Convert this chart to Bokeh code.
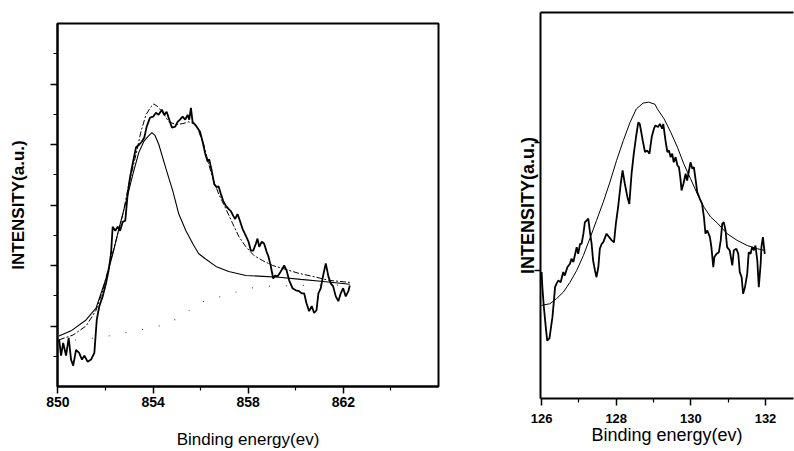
from bokeh.plotting import figure
from bokeh.layouts import row
from bokeh.models import FixedTicker, LinearAxis, Range1d, CustomJSTickFormatter
from bokeh.embed import file_html
from bokeh.resources import INLINE

# ---------------- Left panel: Ni 2p region ----------------
ni_x = [850.05, 850.13, 850.22, 850.34, 850.45, 850.55, 850.64, 850.76, 850.89, 851.01,
        851.11, 851.25, 851.39, 851.53, 851.63, 851.74, 851.88, 852.02, 852.13, 852.23,
        852.30, 852.41, 852.51, 852.61, 852.72, 852.83, 852.93, 853.03, 853.16, 853.28,
        853.42, 853.53, 853.63, 853.73, 853.87, 854.00, 854.12, 854.23, 854.37, 854.47,
        854.57, 854.68, 854.79, 854.93, 855.03, 855.13, 855.24, 855.35, 855.45, 855.52,
        855.59, 855.66, 855.80, 855.97, 856.08, 856.19, 856.29, 856.36, 856.47, 856.57,
        856.67, 856.75, 856.85, 856.95, 857.06, 857.17, 857.27, 857.37, 857.45, 857.55,
        857.65, 857.76, 857.90, 858.01, 858.11, 858.21, 858.32, 858.39, 858.46, 858.57,
        858.67, 858.77, 858.85, 858.95, 859.05, 859.13, 859.23, 859.37, 859.51, 859.61,
        859.72, 859.86, 860.00, 860.14, 860.25, 860.35, 860.45, 860.56, 860.67, 860.77,
        860.87, 860.95, 861.05, 861.15, 861.26, 861.37, 861.47, 861.57, 861.68, 861.79,
        861.89, 861.99, 862.10, 862.21, 862.27]
ni_y = [1.55, 1.02, 1.44, 1.02, 1.61, 0.89, 0.69, 1.21, 1.11, 0.89,
        1.02, 0.82, 0.89, 1.11, 2.20, 2.66, 2.98, 3.41, 3.84, 4.39,
        5.28, 5.15, 5.28, 5.15, 5.44, 5.48, 6.36, 6.92, 7.44, 7.90,
        8.00, 8.10, 8.23, 8.59, 8.89, 8.92, 9.05, 8.98, 9.15, 8.98,
        9.08, 8.82, 8.56, 8.59, 8.75, 8.82, 8.92, 8.82, 8.98, 8.82,
        9.21, 8.75, 8.62, 8.43, 8.10, 7.70, 7.44, 7.51, 7.11, 6.69,
        6.59, 6.62, 6.36, 6.13, 5.97, 5.87, 5.80, 5.64, 5.54, 5.70,
        5.48, 5.21, 4.98, 4.79, 4.49, 4.49, 4.72, 4.89, 4.62, 4.79,
        4.72, 4.46, 4.30, 3.97, 3.57, 3.67, 3.64, 3.80, 4.00, 3.84,
        3.51, 3.25, 3.18, 3.15, 3.08, 3.08, 2.75, 2.49, 2.66, 2.43,
        2.52, 3.08, 3.25, 3.67, 4.07, 3.64, 3.41, 3.31, 2.98, 2.82,
        3.08, 3.25, 2.98, 3.15, 3.34]

ni_env_x = [850.04, 850.63, 851.18, 851.60, 851.89, 852.14, 852.44, 852.73, 852.98, 853.28,
            853.49, 853.70, 853.91, 854.03, 854.20, 854.41, 854.66, 854.96, 855.25, 855.50,
            855.80, 855.92, 856.13, 856.34, 856.55, 856.76, 857.06, 857.35, 857.61, 857.90,
            858.24, 858.61, 859.03, 859.58, 860.13, 860.71, 861.39, 862.27]
ni_env_y = [1.54, 1.70, 2.00, 2.52, 3.18, 3.97, 4.82, 5.70, 6.69, 7.67,
            8.43, 8.98, 9.25, 9.34, 9.25, 9.05, 8.75, 8.66, 8.69, 8.75,
            8.66, 8.43, 8.00, 7.34, 6.79, 6.36, 5.87, 5.38, 4.95, 4.62,
            4.33, 4.16, 4.00, 3.87, 3.74, 3.64, 3.51, 3.44]

ni_main_x = [850.04, 850.55, 851.18, 851.60, 852.02, 852.31, 852.56, 852.86, 853.15, 853.40,
             853.61, 853.78, 853.95, 854.08, 854.24, 854.54, 854.83, 855.08, 855.38, 855.67,
             855.92, 856.18, 856.64, 857.18, 857.90, 858.61, 859.29, 860.21, 861.05, 862.27]
ni_main_y = [1.67, 1.84, 2.20, 2.59, 3.57, 4.39, 5.21, 6.10, 7.02, 7.74,
             8.10, 8.26, 8.39, 8.30, 8.00, 7.20, 6.46, 5.70, 5.15, 4.72,
             4.39, 4.23, 3.97, 3.80, 3.67, 3.64, 3.61, 3.54, 3.48, 3.38]

ni_bg_x = [850.0, 851.0, 852.0, 853.0, 854.0, 854.7, 855.5, 856.2, 857.0, 857.8,
           858.4, 859.1, 860.0, 861.0, 862.3]
ni_bg_y = [1.50, 1.55, 1.65, 1.80, 1.95, 2.10, 2.50, 2.85, 3.00, 3.20,
           3.30, 3.32, 3.34, 3.35, 3.35]

left_xticks = [850, 854, 858, 862]
left_xminor = [852, 856, 860, 864]
left_yticks = [2, 4, 6, 8, 10]
left_yminor = [1, 3, 5, 7, 9, 11]

# ---------------- Right panel: B 1s region ----------------
b_x = [126.00, 126.02, 126.06, 126.12, 126.15, 126.21, 126.24, 126.29, 126.33, 126.36,
       126.40, 126.45, 126.51, 126.58, 126.62, 126.69, 126.76, 126.80, 126.85, 126.89,
       126.94, 126.98, 127.03, 127.07, 127.12, 127.16, 127.21, 127.25, 127.29, 127.34,
       127.38, 127.43, 127.47, 127.52, 127.56, 127.61, 127.65, 127.74, 127.81, 127.88,
       127.94, 127.99, 128.05, 128.12, 128.17, 128.23, 128.30, 128.35, 128.41, 128.47,
       128.53, 128.59, 128.63, 128.71, 128.77, 128.83, 128.89, 128.95, 129.01, 129.05,
       129.12, 129.17, 129.23, 129.26, 129.32, 129.37, 129.41, 129.46, 129.50, 129.54,
       129.59, 129.64, 129.68, 129.72, 129.75, 129.80, 129.86, 129.90, 129.95, 129.99,
       130.04, 130.08, 130.13, 130.17, 130.24, 130.30, 130.35, 130.39, 130.44, 130.51,
       130.55, 130.60, 130.63, 130.69, 130.75, 130.80, 130.84, 130.88, 130.93, 130.97,
       131.04, 131.11, 131.15, 131.22, 131.27, 131.31, 131.36, 131.40, 131.45, 131.51,
       131.55, 131.60, 131.64, 131.69, 131.73, 131.78, 131.82, 131.87, 131.89, 131.93,
       131.96, 131.98]
b_y = [3.95, 3.48, 2.85, 2.13, 1.81, 1.88, 2.13, 2.54, 3.06, 3.48,
       3.59, 3.69, 3.63, 3.95, 3.84, 4.10, 4.21, 4.37, 4.26, 4.47,
       4.73, 4.52, 4.83, 4.83, 5.15, 5.51, 5.56, 5.62, 5.25, 4.83,
       4.31, 4.00, 3.79, 4.10, 4.68, 4.83, 4.88, 5.15, 5.04, 4.94,
       4.88, 5.46, 5.98, 6.71, 7.13, 6.71, 6.29, 6.08, 7.02, 7.65,
       8.17, 8.63, 8.58, 8.06, 7.70, 7.75, 7.65, 8.17, 8.43, 8.53,
       8.48, 8.58, 8.43, 8.58, 8.06, 7.70, 7.75, 7.54, 7.65, 7.38,
       7.54, 7.28, 7.23, 6.87, 6.50, 6.71, 7.02, 6.81, 7.13, 7.38,
       7.18, 7.23, 6.81, 6.45, 6.24, 6.08, 5.67, 5.15, 5.25, 5.04,
       4.73, 4.10, 4.42, 4.52, 4.57, 4.94, 5.46, 5.51, 5.25, 4.73,
       4.63, 4.16, 4.63, 4.68, 4.52, 3.95, 3.79, 3.27, 3.48, 3.90,
       4.57, 4.52, 4.73, 4.63, 4.78, 4.31, 3.48, 4.21, 4.73, 5.04,
       4.73, 4.52]

b_fit_x = [126.00, 126.22, 126.40, 126.58, 126.76, 126.94, 127.12, 127.29, 127.47, 127.65,
           127.83, 128.01, 128.19, 128.37, 128.54, 128.72, 128.87, 129.04, 129.10, 129.28,
           129.46, 129.64, 129.81, 129.99, 130.17, 130.35, 130.53, 130.71, 130.97, 131.24,
           131.51, 131.78, 131.96]
b_fit_y = [2.91, 2.96, 3.12, 3.32, 3.63, 4.00, 4.47, 4.99, 5.56, 6.13,
           6.76, 7.44, 8.06, 8.63, 9.05, 9.23, 9.26, 9.19, 9.05, 8.74,
           8.32, 7.85, 7.33, 6.87, 6.40, 5.98, 5.67, 5.48, 5.15, 4.94,
           4.78, 4.68, 4.63]

right_xticks = [126, 128, 130, 132]
right_xminor = [127, 129, 131]
right_yticks = [4, 8]

x_title = "Binding energy(ev)"
y_title = "INTENSITY(a.u.)"
FONT = "Liberation Sans"


def style(p, xt, xm, yt, ym, tick_size, title_size, xlab_stand, xstand, ystand):
    p.grid.visible = False
    p.background_fill_color = "white"
    p.border_fill_color = "white"
    for ax in (p.xaxis[0], p.yaxis[0]):
        ax.axis_line_width = 2
        ax.axis_line_color = "black"
        ax.major_tick_line_color = "black"
        ax.minor_tick_line_color = "black"
        ax.major_tick_line_width = 1.5
        ax.minor_tick_line_width = 1.2
        ax.major_tick_in = 0
        ax.minor_tick_in = 0
        ax.major_tick_out = 7
        ax.minor_tick_out = 4
        ax.axis_label_text_font = FONT
        ax.axis_label_text_color = "black"
        ax.major_label_text_font = FONT
        ax.major_label_text_color = "black"
    p.xaxis[0].ticker = FixedTicker(ticks=xt, minor_ticks=xm)
    p.yaxis[0].ticker = FixedTicker(ticks=yt, minor_ticks=ym)
    p.xaxis[0].axis_label = x_title
    p.xaxis[0].axis_label_text_font_size = title_size
    p.xaxis[0].axis_label_text_font_style = "normal"
    p.xaxis[0].major_label_text_font_size = tick_size
    p.xaxis[0].major_label_text_font_style = "bold"
    p.xaxis[0].major_label_standoff = xlab_stand
    p.xaxis[0].axis_label_standoff = xstand
    p.yaxis[0].axis_label = y_title
    p.yaxis[0].axis_label_text_font_size = title_size
    p.yaxis[0].axis_label_text_font_style = "bold"
    p.yaxis[0].formatter = CustomJSTickFormatter(code="return ''")
    p.yaxis[0].major_label_standoff = 0
    p.yaxis[0].axis_label_standoff = ystand


p1 = figure(width=470, height=451, x_range=Range1d(849.98, 866.0), y_range=Range1d(0, 12),
            output_backend="svg", toolbar_location=None,
            min_border_left=57, min_border_right=32, min_border_top=23, min_border_bottom=62)
p1.frame_align = False
p1.outline_line_color = "black"
p1.outline_line_width = 2
style(p1, left_xticks, left_xminor, left_yticks, left_yminor, "14px", "17px", 3, 20, 23)

p1.line(ni_bg_x, ni_bg_y, line_color="#444444", line_width=1.1, line_dash="1 16")
p1.line(ni_main_x, ni_main_y, line_color="black", line_width=1.1)
p1.line(ni_env_x, ni_env_y, line_color="black", line_width=1.0, line_dash="6 2 2 2")
p1.line(ni_x, ni_y, line_color="black", line_width=1.8)

p2 = figure(width=324, height=451, x_range=Range1d(125.97, 132.75), y_range=Range1d(0, 12.06),
            output_backend="svg", toolbar_location=None,
            min_border_left=70, min_border_right=1, min_border_top=12, min_border_bottom=53)
p2.frame_align = False
p2.outline_line_color = None
style(p2, right_xticks, right_xminor, right_yticks, [], "13px", "18px", 8, -1, -3)
p2.yaxis[0].major_tick_out = 6
top_axis = LinearAxis(ticker=FixedTicker(ticks=[]), axis_line_width=2, axis_line_color="black")
p2.add_layout(top_axis, "above")

p2.line(b_fit_x, b_fit_y, line_color="black", line_width=1.0)
p2.line(b_x, b_y, line_color="black", line_width=1.8)

layout = row(p1, p2)
open("out.html", "w").write(file_html(layout, INLINE))
